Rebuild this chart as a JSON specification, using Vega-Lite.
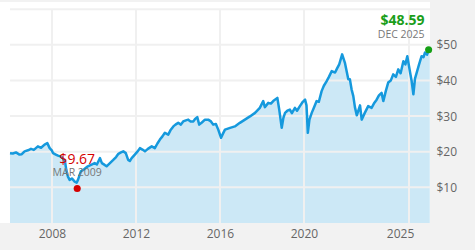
{
  "$schema": "https://vega.github.io/schema/vega-lite/v6.json",
  "width": 430,
  "height": 221,
  "autosize": {"type": "none"},
  "padding": {"left": 0, "top": 2, "right": 45, "bottom": 27},
  "background": "#f2f2f2",
  "config": {
    "view": {"fill": "#ffffff", "stroke": null},
    "font": "Open Sans",
    "axis": {"grid": false, "ticks": false, "domain": false, "title": null, "labelFontSize": 12, "labelColor": "#666666"}
  },
  "datasets": {
    "prices": [
      {"date": "2006-01-01", "price": 19.6}, {"date": "2006-02-20", "price": 19.5}, {"date": "2006-04-15", "price": 19.8},
      {"date": "2006-06-15", "price": 19.2}, {"date": "2006-07-25", "price": 19.3}, {"date": "2006-09-12", "price": 20.1},
      {"date": "2006-11-10", "price": 20.4}, {"date": "2007-01-01", "price": 20.8}, {"date": "2007-02-20", "price": 20.5},
      {"date": "2007-05-01", "price": 21.5}, {"date": "2007-06-25", "price": 21.1}, {"date": "2007-08-25", "price": 22.0},
      {"date": "2007-10-12", "price": 22.4}, {"date": "2007-11-22", "price": 21.0}, {"date": "2008-01-01", "price": 20.3},
      {"date": "2008-01-20", "price": 19.6}, {"date": "2008-03-08", "price": 19.2}, {"date": "2008-04-15", "price": 18.9},
      {"date": "2008-06-05", "price": 18.6}, {"date": "2008-07-08", "price": 18.2}, {"date": "2008-08-15", "price": 17.2},
      {"date": "2008-09-06", "price": 14.9}, {"date": "2008-10-05", "price": 13.0}, {"date": "2008-11-03", "price": 12.1},
      {"date": "2008-12-12", "price": 12.5}, {"date": "2009-01-30", "price": 11.6}, {"date": "2009-03-05", "price": 11.3},
      {"date": "2009-03-28", "price": 12.1}, {"date": "2009-05-18", "price": 14.5}, {"date": "2009-07-08", "price": 15.0},
      {"date": "2009-09-16", "price": 15.9}, {"date": "2009-11-10", "price": 16.3}, {"date": "2010-01-12", "price": 16.8},
      {"date": "2010-02-20", "price": 16.4}, {"date": "2010-04-15", "price": 18.2}, {"date": "2010-05-18", "price": 16.8},
      {"date": "2010-07-05", "price": 16.3}, {"date": "2010-08-08", "price": 15.9}, {"date": "2010-10-05", "price": 16.8},
      {"date": "2010-12-02", "price": 17.7}, {"date": "2011-01-20", "price": 18.5}, {"date": "2011-03-01", "price": 19.4},
      {"date": "2011-04-15", "price": 19.8}, {"date": "2011-05-25", "price": 20.1}, {"date": "2011-07-08", "price": 19.6},
      {"date": "2011-08-18", "price": 17.7}, {"date": "2011-09-16", "price": 17.4}, {"date": "2011-10-18", "price": 18.2},
      {"date": "2011-12-12", "price": 19.2}, {"date": "2012-01-26", "price": 20.0}, {"date": "2012-03-10", "price": 21.0},
      {"date": "2012-04-22", "price": 20.6}, {"date": "2012-06-05", "price": 20.1}, {"date": "2012-07-26", "price": 20.8},
      {"date": "2012-10-01", "price": 21.5}, {"date": "2012-11-24", "price": 21.0}, {"date": "2013-01-08", "price": 22.3},
      {"date": "2013-02-20", "price": 23.4}, {"date": "2013-04-05", "price": 24.3}, {"date": "2013-05-18", "price": 25.3},
      {"date": "2013-07-15", "price": 24.8}, {"date": "2013-08-22", "price": 26.0}, {"date": "2013-10-12", "price": 27.1},
      {"date": "2013-11-18", "price": 27.6}, {"date": "2014-01-05", "price": 28.1}, {"date": "2014-02-20", "price": 27.6},
      {"date": "2014-04-01", "price": 28.5}, {"date": "2014-05-18", "price": 28.8}, {"date": "2014-06-28", "price": 29.0},
      {"date": "2014-08-08", "price": 28.5}, {"date": "2014-09-25", "price": 28.5}, {"date": "2014-10-25", "price": 29.2},
      {"date": "2014-12-02", "price": 29.7}, {"date": "2015-01-05", "price": 27.6}, {"date": "2015-02-20", "price": 28.2},
      {"date": "2015-04-15", "price": 29.0}, {"date": "2015-06-10", "price": 29.0}, {"date": "2015-07-28", "price": 28.5},
      {"date": "2015-09-05", "price": 27.6}, {"date": "2015-10-22", "price": 27.8}, {"date": "2015-12-02", "price": 26.2},
      {"date": "2016-01-20", "price": 23.9}, {"date": "2016-02-20", "price": 25.0}, {"date": "2016-03-28", "price": 26.2},
      {"date": "2016-06-25", "price": 26.7}, {"date": "2016-09-16", "price": 27.1}, {"date": "2016-12-12", "price": 28.1},
      {"date": "2017-03-10", "price": 29.0}, {"date": "2017-06-05", "price": 29.9}, {"date": "2017-09-02", "price": 30.9},
      {"date": "2017-11-24", "price": 32.3}, {"date": "2018-01-22", "price": 34.2}, {"date": "2018-02-20", "price": 32.5},
      {"date": "2018-04-20", "price": 33.7}, {"date": "2018-06-05", "price": 33.5}, {"date": "2018-07-15", "price": 34.2},
      {"date": "2018-09-25", "price": 35.1}, {"date": "2018-10-26", "price": 32.0}, {"date": "2018-12-10", "price": 26.7},
      {"date": "2019-01-08", "price": 29.5}, {"date": "2019-02-06", "price": 30.9}, {"date": "2019-03-18", "price": 31.5},
      {"date": "2019-05-01", "price": 31.8}, {"date": "2019-06-05", "price": 30.8}, {"date": "2019-07-28", "price": 32.3},
      {"date": "2019-09-02", "price": 31.5}, {"date": "2019-10-22", "price": 32.8}, {"date": "2019-12-12", "price": 34.0},
      {"date": "2020-01-20", "price": 34.6}, {"date": "2020-02-14", "price": 33.0}, {"date": "2020-03-08", "price": 25.3},
      {"date": "2020-04-05", "price": 29.0}, {"date": "2020-05-15", "price": 30.9}, {"date": "2020-06-25", "price": 32.5},
      {"date": "2020-08-08", "price": 34.2}, {"date": "2020-09-16", "price": 34.0}, {"date": "2020-11-03", "price": 37.0},
      {"date": "2020-12-12", "price": 38.5}, {"date": "2021-01-30", "price": 39.8}, {"date": "2021-03-10", "price": 41.0},
      {"date": "2021-04-28", "price": 42.6}, {"date": "2021-06-25", "price": 42.2}, {"date": "2021-07-28", "price": 43.3},
      {"date": "2021-09-05", "price": 44.5}, {"date": "2021-10-26", "price": 47.3}, {"date": "2021-12-12", "price": 45.0},
      {"date": "2022-02-10", "price": 40.3}, {"date": "2022-03-10", "price": 40.3}, {"date": "2022-04-08", "price": 37.5},
      {"date": "2022-05-08", "price": 35.6}, {"date": "2022-06-05", "price": 32.5}, {"date": "2022-07-08", "price": 30.2},
      {"date": "2022-09-02", "price": 33.0}, {"date": "2022-10-01", "price": 29.0}, {"date": "2022-11-24", "price": 30.9},
      {"date": "2023-01-22", "price": 32.8}, {"date": "2023-03-22", "price": 32.3}, {"date": "2023-05-01", "price": 33.5},
      {"date": "2023-06-18", "price": 34.6}, {"date": "2023-07-28", "price": 35.8}, {"date": "2023-09-12", "price": 36.5},
      {"date": "2023-10-12", "price": 34.2}, {"date": "2023-11-24", "price": 37.0}, {"date": "2024-01-05", "price": 39.4},
      {"date": "2024-02-20", "price": 40.0}, {"date": "2024-04-01", "price": 41.7}, {"date": "2024-05-18", "price": 41.0},
      {"date": "2024-06-28", "price": 43.1}, {"date": "2024-08-08", "price": 42.0}, {"date": "2024-09-25", "price": 45.4},
      {"date": "2024-10-30", "price": 44.5}, {"date": "2024-12-02", "price": 46.8}, {"date": "2025-01-20", "price": 42.2},
      {"date": "2025-02-14", "price": 40.0}, {"date": "2025-03-18", "price": 36.1}, {"date": "2025-04-15", "price": 40.5},
      {"date": "2025-05-15", "price": 42.2}, {"date": "2025-06-25", "price": 44.5}, {"date": "2025-08-08", "price": 46.8},
      {"date": "2025-09-10", "price": 46.5}, {"date": "2025-10-05", "price": 47.8}, {"date": "2025-11-10", "price": 47.2},
      {"date": "2025-12-08", "price": 48.59}, {"date": "2025-12-28", "price": 47.9}
    ],
    "low": [{"date": "2009-03-15", "price": 9.67, "label": "$9.67", "when": "MAR 2009"}],
    "high": [{"date": "2025-12-08", "price": 48.59, "label": "$48.59", "when": "DEC 2025"}],
    "ygrid": [{"v": 10}, {"v": 20}, {"v": 30}, {"v": 40}, {"v": 50}, {"v": 60}],
    "xgrid": [{"d": "2008-01-01"}, {"d": "2012-01-01"}, {"d": "2016-01-01"}, {"d": "2020-01-01"}, {"d": "2025-01-01"}]
  },
  "layer": [
    {
      "data": {"name": "prices"},
      "mark": {"type": "area", "color": "#cce8f6", "opacity": 1},
      "encoding": {
        "x": {
          "field": "date", "type": "temporal",
          "scale": {"type": "utc", "domain": [{"year": 2005, "month": 7, "date": 11, "utc": true}, {"year": 2026, "month": 1, "date": 1, "utc": true}]},
          "axis": {
            "format": "%Y",
            "values": [{"year": 2008, "month": 1, "date": 1, "utc": true}, {"year": 2012, "month": 1, "date": 1, "utc": true}, {"year": 2016, "month": 1, "date": 1, "utc": true}, {"year": 2020, "month": 1, "date": 1, "utc": true}, {"year": 2025, "month": 1, "date": 1, "utc": true}],
            "labelPadding": 5,
            "labelOffset": {"condition": {"test": "utcyear(datum.value) == 2025", "value": -9}, "value": 0}
          }
        },
        "y": {
          "field": "price", "type": "quantitative",
          "scale": {"domain": [0, 62], "nice": false, "zero": true},
          "axis": {
            "orient": "right",
            "values": [10, 20, 30, 40, 50], "labelExpr": "'$' + datum.value",
            "labelPadding": 6
          }
        }
      }
    },
    {
      "data": {"name": "ygrid"},
      "mark": {"type": "rule", "color": "#f0f0f0", "strokeWidth": 2},
      "encoding": {
        "y": {"field": "v", "type": "quantitative", "title": null},
        "x": {"datum": {"year": 2006, "month": 1, "date": 1, "utc": true}, "type": "temporal", "title": null},
        "x2": {"datum": {"year": 2026, "month": 1, "date": 1, "utc": true}}
      }
    },
    {
      "data": {"name": "xgrid"},
      "mark": {"type": "rule", "color": "#f0f0f0", "strokeWidth": 2},
      "encoding": {
        "x": {"field": "d", "type": "temporal", "title": null},
        "y": {"datum": 0, "type": "quantitative", "title": null},
        "y2": {"datum": 60}
      }
    },
    {
      "data": {"name": "prices"},
      "mark": {"type": "line", "color": "#1599dd", "strokeWidth": 2.5, "strokeJoin": "round"},
      "encoding": {
        "x": {"field": "date", "type": "temporal", "title": null},
        "y": {"field": "price", "type": "quantitative", "title": null}
      }
    },
    {
      "data": {"name": "low"},
      "mark": {"type": "circle", "color": "#d40000", "size": 50, "opacity": 1},
      "encoding": {
        "x": {"field": "date", "type": "temporal", "title": null},
        "y": {"field": "price", "type": "quantitative", "title": null}
      }
    },
    {
      "data": {"name": "high"},
      "mark": {"type": "circle", "color": "#15a015", "size": 50, "opacity": 1},
      "encoding": {
        "x": {"field": "date", "type": "temporal", "title": null},
        "y": {"field": "price", "type": "quantitative", "title": null}
      }
    },
    {
      "data": {"name": "low"},
      "mark": {"type": "text", "color": "#d40000", "fontSize": 14, "align": "center", "baseline": "alphabetic", "dy": -25},
      "encoding": {
        "x": {"field": "date", "type": "temporal", "title": null},
        "y": {"field": "price", "type": "quantitative", "title": null},
        "text": {"field": "label"}
      }
    },
    {
      "data": {"name": "low"},
      "mark": {"type": "text", "color": "#777777", "fontSize": 10.5, "align": "center", "baseline": "alphabetic", "dy": -12.5},
      "encoding": {
        "x": {"field": "date", "type": "temporal", "title": null},
        "y": {"field": "price", "type": "quantitative", "title": null},
        "text": {"field": "when"}
      }
    },
    {
      "data": {"name": "high"},
      "mark": {"type": "text", "color": "#1a9e1a", "fontSize": 14, "fontWeight": "bold", "align": "right", "baseline": "alphabetic", "dx": -4, "dy": -25},
      "encoding": {
        "x": {"field": "date", "type": "temporal", "title": null},
        "y": {"field": "price", "type": "quantitative", "title": null},
        "text": {"field": "label"}
      }
    },
    {
      "data": {"name": "high"},
      "mark": {"type": "text", "color": "#777777", "fontSize": 10.5, "align": "right", "baseline": "alphabetic", "dx": -4, "dy": -12},
      "encoding": {
        "x": {"field": "date", "type": "temporal", "title": null},
        "y": {"field": "price", "type": "quantitative", "title": null},
        "text": {"field": "when"}
      }
    }
  ]
}
